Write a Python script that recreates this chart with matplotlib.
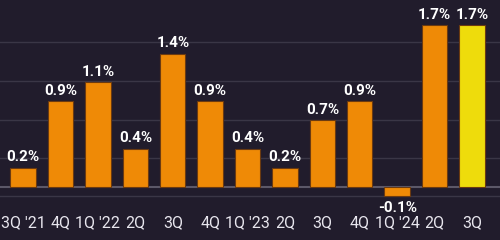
import matplotlib
matplotlib.use("Agg")
import matplotlib.pyplot as plt
import numpy as np

# Quarterly growth values (%)
quarters = ["3Q '21", "4Q", "1Q '22", "2Q", "3Q", "4Q", "1Q '23",
            "2Q", "3Q", "4Q", "1Q '24", "2Q", "3Q"]
growth = [0.2, 0.9, 1.1, 0.4, 1.4, 0.9, 0.4, 0.2, 0.7, 0.9, -0.1, 1.7, 1.7]
labels = ["0.2%", "0.9%", "1.1%", "0.4%", "1.4%", "0.9%", "0.4%",
          "0.2%", "0.7%", "0.9%", "-0.1%", "1.7%", "1.7%"]

BG = "#211c2c"
ORANGE = "#ef8a06"
YELLOW = "#eedc0c"

plt.rcParams['font.family'] = ['Roboto', 'DejaVu Sans']

fig = plt.figure(figsize=(5, 2.4), dpi=100, facecolor=BG)
ax = fig.add_axes([0, 40 / 240, 1, 200 / 240])
ax.set_facecolor(BG)

x = np.arange(len(quarters))
colors = [ORANGE] * (len(quarters) - 1) + [YELLOW]
ax.bar(x, growth, width=0.68, color=colors, edgecolor="#6b3a10", linewidth=0.8, zorder=3)

# value labels
for xi, v, lab in zip(x, growth, labels):
    if v >= 0:
        ax.text(xi, v + 0.04, lab, ha="center", va="bottom", color="white",
                fontsize=11, fontweight="bold", zorder=4)
    else:
        ax.text(xi, v - 0.05, lab, ha="center", va="top", color="white",
                fontsize=11, fontweight="bold", zorder=4)

ax.set_xlim(-0.62, 12.75)
ax.set_ylim(-0.137, 1.968)

ax.set_xticks(x)
ax.set_xticklabels(quarters, color="#e8e6ee", fontsize=11.5)
ax.tick_params(axis="x", length=0, pad=11)
ax.set_yticks(np.arange(0.3, 1.9, 0.41))
ax.tick_params(axis="y", length=0, labelleft=False)
ax.yaxis.grid(True, color="#3a3646", linewidth=1.0, zorder=0)

ax.axhline(0, color="#5c5868", linewidth=1.5, zorder=2)
ax.axhline(-0.1, color="#3a3646", linewidth=1.0, zorder=1)

for s in ax.spines.values():
    s.set_visible(False)

fig.savefig("out.png", dpi=100, facecolor=BG)
